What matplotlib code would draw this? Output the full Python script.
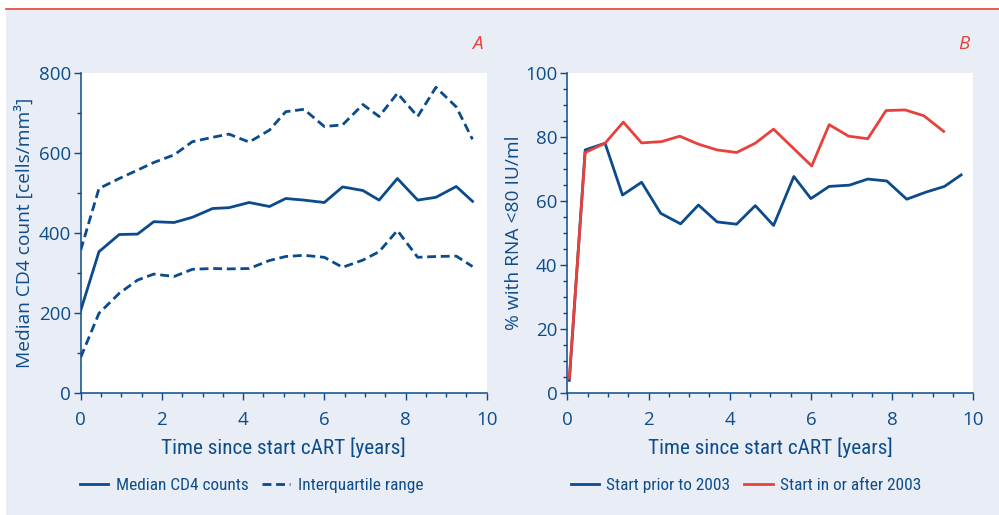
import matplotlib
matplotlib.use("Agg")
import matplotlib.pyplot as plt
from matplotlib.patches import Rectangle
from matplotlib.lines import Line2D
from matplotlib.ticker import MultipleLocator

# ---------------- data ----------------
# Panel A: CD4 counts
cd4_years = [0, 0.45, 0.95, 1.4, 1.8, 2.3, 2.75, 3.25, 3.65, 4.15, 4.65, 5.05,
             5.5, 6.0, 6.45, 6.95, 7.35, 7.8, 8.3, 8.75, 9.25, 9.65]
cd4_median = [205, 352, 395, 396, 427, 425, 438, 460, 462, 475, 465, 485,
              481, 475, 514, 505, 481, 535, 481, 488, 515, 478]
cd4_q3 = [356, 510, 535, 556, 575, 594, 627, 638, 646, 626, 656, 702,
          708, 665, 669, 720, 690, 748, 690, 763, 714, 633]
cd4_q1 = [88, 198, 248, 281, 296, 290, 308, 310, 309, 310, 330, 340,
          343, 338, 313, 331, 352, 405, 338, 340, 341, 315]

# Panel B: % with RNA < 80 IU/ml
rna_years_pre = [0.05, 0.44, 0.93, 1.36, 1.83, 2.30, 2.79, 3.23, 3.69, 4.17, 4.63,
                 5.08, 5.58, 6.0, 6.45, 6.95, 7.40, 7.87, 8.36, 8.83, 9.29, 9.70]
rna_pre2003 = [3.8, 75.8, 77.9, 61.7, 65.7, 56.0, 52.7, 58.6, 53.3, 52.6, 58.4,
               52.2, 67.5, 60.6, 64.4, 64.8, 66.7, 66.1, 60.4, 62.6, 64.4, 68.0]
rna_years_post = [0.05, 0.44, 0.93, 1.38, 1.83, 2.32, 2.77, 3.23, 3.69, 4.17, 4.63,
                  5.08, 6.02, 6.45, 6.93, 7.40, 7.85, 8.32, 8.78, 9.27]
rna_post2003 = [4.5, 75.0, 77.9, 84.5, 78.0, 78.4, 80.1, 77.6, 75.8, 75.0, 77.9,
                82.3, 70.8, 83.7, 80.1, 79.3, 88.1, 88.3, 86.5, 81.6]

xlabel_text = "Time since start cART [years]"
ylabel_a = "Median CD4 count [cells/mm\u00b3]"
ylabel_b = "% with RNA <80 IU/ml"
legend_a = ["Median CD4 counts", "Interquartile range"]
legend_b = ["Start prior to 2003", "Start in or after 2003"]

# ---------------- style ----------------
BLUE = "#0b4a8b"
TXT = "#0e4d8c"
RED = "#e8413c"
BG = "#e9edf5"
NARROW = ["Roboto Condensed", "Liberation Sans Narrow", "Open Sans", "DejaVu Sans"]
WIDE = ["Open Sans", "DejaVu Sans"]

fig = plt.figure(figsize=(9.99, 5.15), dpi=100)
fig.patch.set_facecolor("white")
W, H = 999.0, 515.0
fig.patches.append(Rectangle((6 / W, 0), 1, (H - 9) / H, transform=fig.transFigure,
                             facecolor=BG, edgecolor="none", zorder=-10))
fig.lines.append(Line2D([6 / W, 1], [(H - 8.5) / H] * 2, transform=fig.transFigure,
                        color=RED, lw=1.2))

def px_axes(left, right, top, bottom):
    return fig.add_axes([left / W, (H - bottom) / H, (right - left) / W, (bottom - top) / H])

axA = px_axes(80.7, 486.7, 72.5, 392.5)
axB = px_axes(567.3, 973.3, 72.5, 392.5)

LW = 2.0
dash = (0, (3.2, 1.7))

axA.plot(cd4_years, cd4_median, color=BLUE, lw=LW, label=legend_a[0])
axA.plot(cd4_years, cd4_q3, color=BLUE, lw=LW, linestyle=dash, label=legend_a[1])
axA.plot(cd4_years, cd4_q1, color=BLUE, lw=LW, linestyle=dash)
axA.set_ylim(0, 800)
axA.yaxis.set_major_locator(MultipleLocator(200))
axA.yaxis.set_minor_locator(MultipleLocator(100))

axB.plot(rna_years_pre, rna_pre2003, color=BLUE, lw=LW, label=legend_b[0])
axB.plot(rna_years_post, rna_post2003, color=RED, lw=LW, label=legend_b[1])
axB.set_ylim(0, 100)
axB.yaxis.set_major_locator(MultipleLocator(20))
axB.yaxis.set_minor_locator(MultipleLocator(5))

for ax, ylab, yl_x, letter, lx in [(axA, ylabel_a, -0.115, "A", -0.002),
                                    (axB, ylabel_b, -0.109, "B", 0.008)]:
    ax.set_xlim(0, 10)
    ax.xaxis.set_major_locator(MultipleLocator(2))
    ax.xaxis.set_minor_locator(MultipleLocator(0.5))
    ax.set_facecolor("white")
    for s in ("top", "right"):
        ax.spines[s].set_visible(False)
    for s in ("left", "bottom"):
        ax.spines[s].set_color(BLUE)
        ax.spines[s].set_linewidth(1.1)
    ax.tick_params(which="major", length=5, width=1.0, color=BLUE, labelcolor=TXT,
                   labelsize=13.5)
    ax.tick_params(which="minor", length=3, width=1.0, color=BLUE)
    ax.tick_params(axis="x", which="major", pad=8)
    ax.tick_params(axis="y", which="major", pad=2)
    for lab in ax.get_xticklabels() + ax.get_yticklabels():
        lab.set_family(WIDE)
    ax.set_xlabel(xlabel_text, color=TXT, fontsize=15.3, family=NARROW)
    ax.xaxis.set_label_coords(0.5, -0.142)
    ax.set_ylabel(ylab, color=TXT, fontsize=13.8, family=WIDE)
    ax.yaxis.set_label_coords(yl_x, 0.5)
    ax.text(0.99, 1.09, letter, transform=ax.transAxes, color=RED, fontsize=13.5,
            style="italic", ha="right", va="center", family=WIDE)
    leg = ax.legend(loc="center left", bbox_to_anchor=(lx, -0.29), ncol=2,
                    frameon=False, handlelength=1.65, handletextpad=0.42,
                    columnspacing=0.8, prop={"family": NARROW, "size": 12.4},
                    borderaxespad=0, borderpad=0)
    for t in leg.get_texts():
        t.set_color(TXT)

fig.savefig("out.png", dpi=100, facecolor=fig.get_facecolor())
